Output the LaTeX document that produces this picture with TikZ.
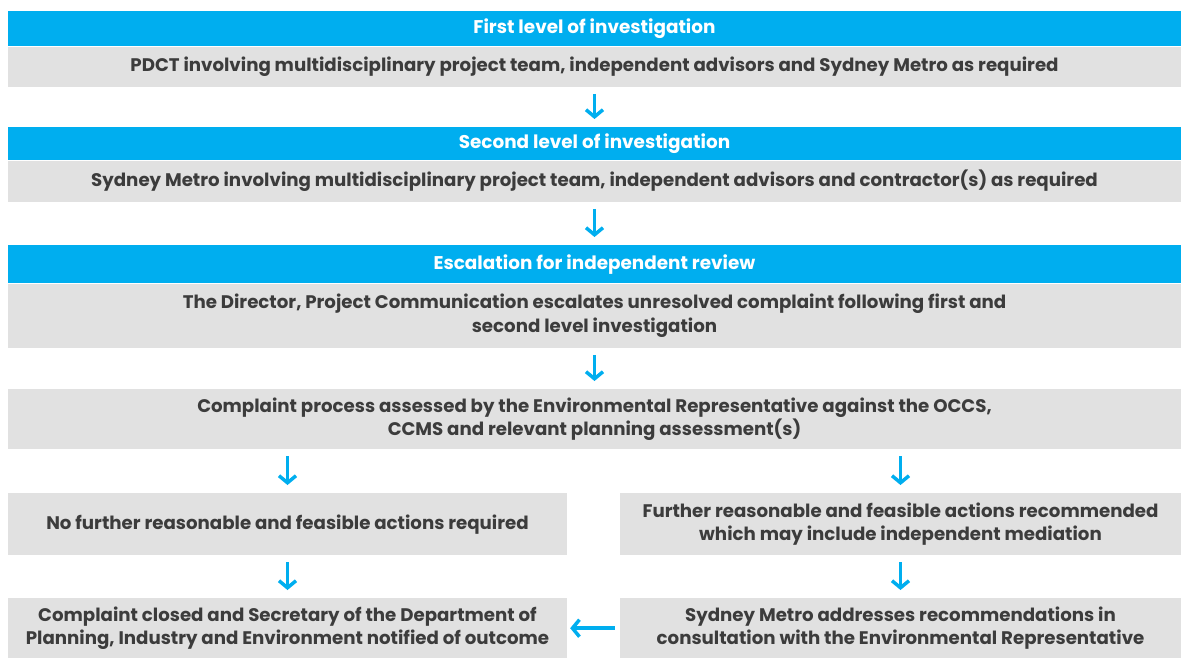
\documentclass[tikz,border=0pt]{standalone}
\usepackage{fontspec}
\setmainfont{Poppins}
\usetikzlibrary{positioning,arrows.meta}
\definecolor{metroblue}{HTML}{00AEEF}
\definecolor{boxgray}{HTML}{E1E1E1}
\definecolor{txtgray}{HTML}{3C3C3C}
\begin{document}
\begin{tikzpicture}[x=1pt,y=-1pt,
	head/.style={rectangle,fill=metroblue,text=white,font=\bfseries\fontsize{18.4}{22}\selectfont,minimum width=1173pt,inner sep=0pt,anchor=north},
	body/.style={rectangle,fill=boxgray,text=txtgray,font=\bfseries\fontsize{18.2}{23.5}\selectfont,align=center,inner sep=0pt,anchor=north},
	flow/.style={metroblue,line width=3.5pt,-{Straight Barb[length=7pt,width=17pt]},shorten <=7pt,shorten >=8pt}]
	\useasboundingbox (0,0) rectangle (1182,658);
	% investigation levels
	\node[head,minimum height=35pt] (lvlone) at (594.5,11) {First level of investigation};
	\node[body,minimum width=1173pt,minimum height=40pt,below=0pt of lvlone] (pdct) {PDCT involving multidisciplinary project team, independent advisors and Sydney Metro as required};
	\node[head,minimum height=33pt] (lvltwo) at (594.5,127) {Second level of investigation};
	\node[body,minimum width=1173pt,minimum height=41pt,below=0pt of lvltwo] (metro) {Sydney Metro involving multidisciplinary project team, independent advisors and contractor(s) as required};
	\node[head,minimum height=38pt] (escal) at (594.5,245) {Escalation for independent review};
	\node[body,minimum width=1173pt,minimum height=64pt,below=0pt of escal] (director) {The Director, Project Communication escalates unresolved complaint following first and\\second level investigation};
	\node[body,minimum width=1173pt,minimum height=60pt] (assess) at (594.5,389) {Complaint process assessed by the Environmental Representative against the OCCS,\\CCMS and relevant planning assessment(s)};
	% outcomes
	\node[body,minimum width=559pt,minimum height=62pt] (noact) at (287.5,493) {No further reasonable and feasible actions required};
	\node[body,minimum width=561pt,minimum height=62pt] (further) at (900.5,493) {Further reasonable and feasible actions recommended\\which may include independent mediation};
	\node[body,minimum width=559pt,minimum height=60pt] (closed) at (287.5,598) {Complaint closed and Secretary of the Department of\\Planning, Industry and Environment notified of outcome};
	\node[body,minimum width=561pt,minimum height=60pt] (addr) at (900.5,598) {Sydney Metro addresses recommendations in\\consultation with the Environmental Representative};
	\draw[flow] (pdct) -- (lvltwo);
	\draw[flow] (metro) -- (escal);
	\draw[flow] (director) -- (assess);
	\draw[flow] (assess.south -| noact) -- (noact);
	\draw[flow] (assess.south -| further) -- (further);
	\draw[flow] (noact) -- (closed);
	\draw[flow] (further) -- (addr);
	\draw[flow,shorten <=5pt,shorten >=3pt] (addr) -- (closed);
\end{tikzpicture}
\end{document}
